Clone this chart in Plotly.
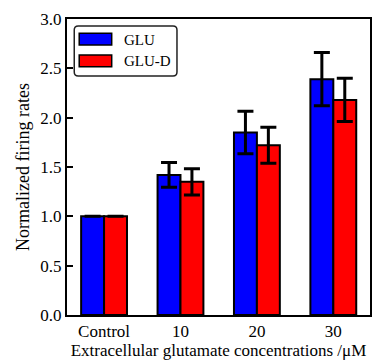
import plotly.graph_objects as go

categories = ["Control", "10", "20", "30"]
glu = [1.0, 1.42, 1.85, 2.39]
glu_err = [None, 0.125, 0.215, 0.27]
glud = [1.0, 1.35, 1.72, 2.18]
glud_err = [None, 0.133, 0.183, 0.22]
y_ticks = [0.0, 0.5, 1.0, 1.5, 2.0, 2.5, 3.0]
series_names = ["GLU", "GLU-D"]
series_colors = ["#0000ff", "#ff0000"]

FONT = "Liberation Serif, Times New Roman, serif"
W, H = 373, 363
ML, MR, MT, MB = 67, 1, 19, 48
PW, PH = W - ML - MR, H - MT - MB


def px(x):
    return (x - ML) / PW


def py(y):
    return (H - MB - y) / PH


def err(vals):
    return dict(type="data", array=vals, visible=True, color="black",
                thickness=3, width=8)


fig = go.Figure()
for name, vals, errs, col in [(series_names[0], glu, glu_err, series_colors[0]),
                              (series_names[1], glud, glud_err, series_colors[1])]:
    fig.add_trace(go.Bar(x=categories, y=vals, name=name, showlegend=False,
                         marker=dict(color=col, line=dict(color="black", width=2)),
                         error_y=err(errs)))

# custom legend (matplotlib-style: wide swatches, rounded frame)
bx0, bx1, by0, by1, r = 74.3, 177.7, 26, 76, 4
path = (f"M {px(bx0 + r)},{py(by0)} L {px(bx1 - r)},{py(by0)} "
        f"Q {px(bx1)},{py(by0)} {px(bx1)},{py(by0 + r)} "
        f"L {px(bx1)},{py(by1 - r)} Q {px(bx1)},{py(by1)} {px(bx1 - r)},{py(by1)} "
        f"L {px(bx0 + r)},{py(by1)} Q {px(bx0)},{py(by1)} {px(bx0)},{py(by1 - r)} "
        f"L {px(bx0)},{py(by0 + r)} Q {px(bx0)},{py(by0)} {px(bx0 + r)},{py(by0)} Z")
fig.add_shape(type="path", path=path, xref="paper", yref="paper",
              line=dict(color="#222222", width=1.5), fillcolor="white", layer="above")
rows = [(33.3, 45.0, 40.0), (55.0, 66.7, 61.5)]
for (sy0, sy1, ty), name, col in zip(rows, series_names, series_colors):
    fig.add_shape(type="rect", xref="paper", yref="paper",
                  x0=px(79.3), x1=px(112), y0=py(sy1), y1=py(sy0),
                  fillcolor=col, line=dict(color="black", width=1.5), layer="above")
    fig.add_annotation(x=px(122), y=py(ty), xref="paper", yref="paper",
                       text=name, showarrow=False, xanchor="left", yanchor="middle",
                       font=dict(family=FONT, size=15, color="black"))

fig.update_layout(
    width=W, height=H,
    margin=dict(l=ML, r=MR, t=MT, b=MB),
    plot_bgcolor="white", paper_bgcolor="white",
    barmode="group", bargap=0.4, bargroupgap=0,
    font=dict(family=FONT, size=17, color="black"),
    showlegend=False,
    xaxis=dict(range=[-0.485, 3.48], showline=True, linecolor="black", linewidth=2,
               mirror=True, ticks="", tickfont=dict(size=17),
               title=dict(text="Extracellular glutamate concentrations /μM",
                          font=dict(size=17), standoff=4)),
    yaxis=dict(range=[0, 3.0], tickvals=y_ticks,
               ticktext=[f"{v:.1f}" for v in y_ticks],
               showline=True, linecolor="black", linewidth=2, mirror=True,
               ticks="inside", ticklen=6, tickwidth=2, tickcolor="black",
               showgrid=False, zeroline=False, tickfont=dict(size=17),
               title=dict(text="Normalized firing rates", font=dict(size=18), standoff=6)),
)

fig.write_html("out.html", config={"displayModeBar": False},
               post_script="document.body.style.margin='0';")
